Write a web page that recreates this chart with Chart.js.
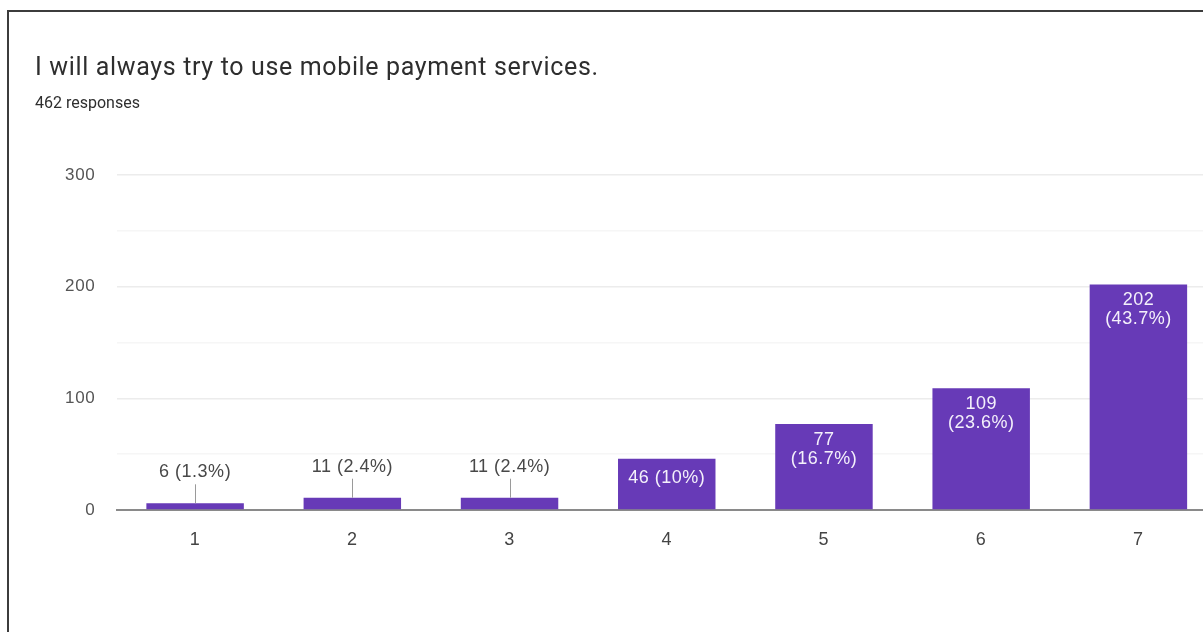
<!DOCTYPE html>
<html>
<head>
<meta charset="utf-8">
<title>Mobile payment survey</title>
<script src="https://cdn.jsdelivr.net/npm/chart.js@4/dist/chart.umd.min.js"></script>
<style>
  html, body { margin: 0; padding: 0; width: 1203px; height: 632px; overflow: hidden; background: #fff; }
  #frame {
    position: absolute; left: 7px; top: 10px; width: 1220px; height: 640px;
    border-top: 2px solid #3c3c3c; border-left: 2px solid #3c3c3c;
  }
  #title {
    position: absolute; left: 35px; top: 52px; white-space: nowrap;
    font: 25px Roboto, Arial, sans-serif; letter-spacing: 0.65px; color: #2e2e2e;
  }
  #subtitle {
    position: absolute; left: 35px; top: 93px; white-space: nowrap;
    font: 16px Roboto, Arial, sans-serif; color: #2e2e2e;
  }
  #wrap { position: absolute; left: 0; top: 0; width: 1220px; height: 632px; }
</style>
</head>
<body>
<div id="frame"></div>
<div id="wrap"><canvas id="chart"></canvas></div>
<div id="title">I will always try to use mobile payment services.</div>
<div id="subtitle">462 responses</div>
<script>
// Linear scale answers, 1 = strongly disagree ... 7 = strongly agree
const categories = ['1', '2', '3', '4', '5', '6', '7'];
const responses = [6, 11, 11, 46, 77, 109, 202];
const percents = ['1.3%', '2.4%', '2.4%', '10%', '16.7%', '23.6%', '43.7%'];
const yMax = 300;
const yStep = 50;      // minor grid every 50, labels every 100
const yLabelStep = 100;

const barColor = '#673ab7';
const fontFamily = '"Liberation Sans", Arial, sans-serif';
const labelFont = '18px ' + fontFamily;

// slightly wider text spacing for everything drawn on the canvas
const wideText = {
    id: 'wideText',
    beforeDraw(chart) { chart.ctx.letterSpacing = '0.7px'; }
};

// Count + percentage on each bar: above small bars with a leader line, inside the rest
const barLabels = {
    id: 'barLabels',
    afterDatasetsDraw(chart) {
        const ctx = chart.ctx;
        const meta = chart.getDatasetMeta(0);
        ctx.save();
        ctx.font = labelFont;
        ctx.letterSpacing = '0.5px';
        ctx.textAlign = 'center';
        ctx.textBaseline = 'middle';
        meta.data.forEach((bar, i) => {
            const h = bar.base - bar.y;
            const oneLine = responses[i] + ' (' + percents[i] + ')';
            if (h < 30) {
                ctx.strokeStyle = '#9a9a9a';
                ctx.lineWidth = 1;
                ctx.beginPath();
                ctx.moveTo(Math.round(bar.x) + 0.5, bar.y);
                ctx.lineTo(Math.round(bar.x) + 0.5, bar.y - 19);
                ctx.stroke();
                ctx.fillStyle = '#484848';
                ctx.fillText(oneLine, bar.x, bar.y - 31);
            } else if (h < 70) {
                ctx.fillStyle = '#f4f0fb';
                ctx.fillText(oneLine, bar.x, bar.y + 19);
            } else {
                ctx.fillStyle = '#f4f0fb';
                ctx.fillText(String(responses[i]), bar.x, bar.y + 16);
                ctx.fillText('(' + percents[i] + ')', bar.x, bar.y + 35);
            }
        });
        ctx.restore();
    }
};

const ctx = document.getElementById('chart').getContext('2d');
new Chart(ctx, {
    type: 'bar',
    data: {
        labels: categories,
        datasets: [{
            data: responses,
            backgroundColor: barColor,
            borderWidth: 0,
            categoryPercentage: 1,
            barPercentage: 0.62
        }]
    },
    options: {
        responsive: true,
        maintainAspectRatio: false,
        animation: false,
        layout: { padding: { top: 175, right: 3, left: 0, bottom: 0 } },
        plugins: {
            legend: { display: false },
            tooltip: { enabled: false }
        },
        scales: {
            x: {
                grid: { display: false, drawTicks: false },
                border: { display: true, color: '#8a8a8a', width: 2 },
                ticks: {
                    color: '#444',
                    padding: 19,
                    font: { size: 18, family: fontFamily }
                },
                afterFit(scale) { scale.height = 122; }
            },
            y: {
                min: 0,
                max: yMax,
                border: { display: false },
                grid: {
                    drawTicks: false,
                    color: c => c.tick.value === 0 ? 'rgba(0,0,0,0)'
                        : (c.tick.value % yLabelStep === 0 ? '#ececec' : '#f6f6f6'),
                    lineWidth: 1.5
                },
                ticks: {
                    stepSize: yStep,
                    color: '#555',
                    padding: 21,
                    font: { size: 17, family: fontFamily },
                    callback: v => v % yLabelStep === 0 ? v : ''
                },
                afterFit(scale) { scale.width = 116.5; }
            }
        }
    },
    plugins: [wideText, barLabels]
});
</script>
</body>
</html>
